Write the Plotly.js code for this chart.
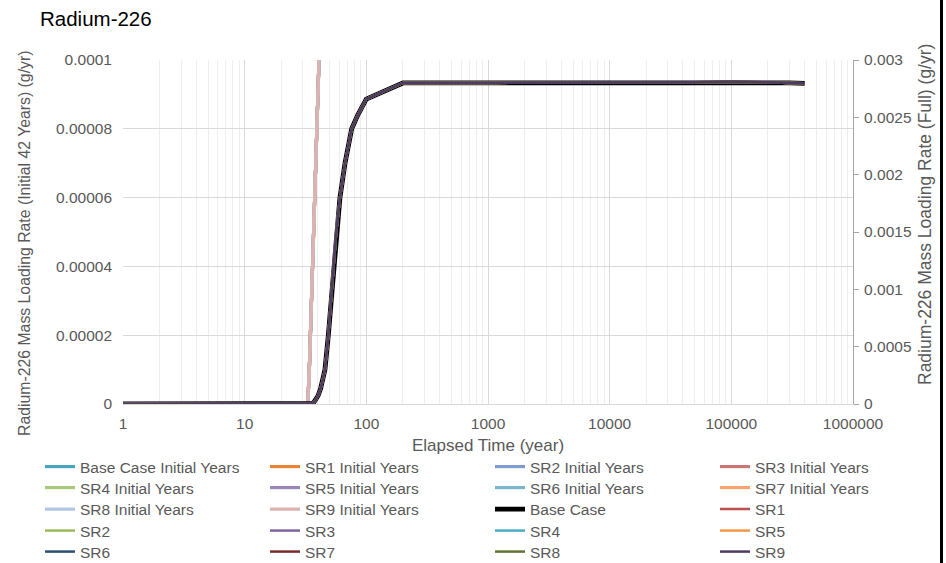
<!DOCTYPE html>
<html>
<head>
<meta charset="utf-8">
<script src="https://cdn.plot.ly/plotly-3.0.1.min.js"></script>
<style>
html,body{margin:0;padding:0;background:#fff;}
#chart{width:946px;height:563px;}
#edge{position:absolute;left:940px;top:0;width:3px;height:563px;background:#000;}
</style>
</head>
<body>
<div id="chart"></div>
<div id="edge"></div>
<script>
// ---- data ----
const chartTitle = "Radium-226";
const xTitle = "Elapsed Time (year)";
const yLeftTitle = "Radium-226 Mass Loading Rate (Initial 42 Years) (g/yr)";
const yRightTitle = "Radium-226 Mass Loading Rate (Full) (g/yr)";

// Initial 42 years (left axis)
const initialYears = [1, 5, 10, 20, 30, 33, 34, 35, 36, 37, 38, 39, 40, 41, 42];
const initialRate  = [0, 0, 0, 0, 0, 0, 0.000010, 0.000024, 0.000038, 0.000052, 0.000065, 0.000078, 0.000090, 0.000102, 0.000114];

// Full simulation (right axis)
const fullYears = [1, 10, 30, 35, 36, 37, 38, 40, 42, 44, 45.7, 48.7, 51.2, 53.8, 56.6, 60.7, 66.8, 75.8, 85, 100, 200, 1000, 10000, 50000, 100000, 150000, 200000, 300000, 400000];
const fullRate  = [0, 0, 0, 0, 0.000005, 0.000015, 0.00003, 0.00007, 0.00013, 0.00022, 0.0003, 0.0006, 0.0009, 0.0012, 0.0015, 0.0018, 0.0021, 0.0024, 0.00252, 0.00266, 0.0028, 0.0028, 0.0028, 0.002805, 0.00281, 0.00281, 0.002805, 0.0028, 0.002797];

const initialNames = ["Base Case Initial Years","SR1 Initial Years","SR2 Initial Years","SR3 Initial Years","SR4 Initial Years","SR5 Initial Years","SR6 Initial Years","SR7 Initial Years","SR8 Initial Years","SR9 Initial Years"];
const initialColors = ["#4AA3C2","#EB8437","#7F9CD2","#CC7674","#A7C77A","#9A86B8","#79B6CE","#F7A46E","#B3C6E4","#DDB3B2"];
const fullNames = ["Base Case","SR1","SR2","SR3","SR4","SR5","SR6","SR7","SR8","SR9"];
const fullColors = ["#000000","#C0504D","#9BBB59","#8064A2","#4BACC6","#F79646","#2C4D75","#772C2A","#5F7530","#4D3B62"];

const xTickVals = [1, 10, 100, 1000, 10000, 100000, 1000000];
const xTickText = ["1","10","100","1000","10000","100000","1000000"];
const yLeftTickVals = [0, 0.00002, 0.00004, 0.00006, 0.00008, 0.0001];
const yLeftTickText = ["0","0.00002","0.00004","0.00006","0.00008","0.0001"];
const yRightTickVals = [0, 0.0005, 0.001, 0.0015, 0.002, 0.0025, 0.003];
const yRightTickText = ["0","0.0005","0.001","0.0015","0.002","0.0025","0.003"];

// ---- traces ----
const traces = [];
initialNames.forEach((n, i) => {
  traces.push({
    x: initialYears, y: initialRate, name: n, type: "scatter", mode: "lines",
    yaxis: "y", line: {color: initialColors[i], width: 3.2}
  });
});
fullNames.forEach((n, i) => {
  traces.push({
    x: fullYears, y: fullRate, name: n, type: "scatter", mode: "lines",
    yaxis: "y2", line: {color: fullColors[i], width: i === 0 ? 4.8 : 2.5}
  });
});

const grey = "#595959";
const font = "Liberation Sans, Arial, sans-serif";

const layout = {
  width: 946, height: 563,
  margin: {l: 123, r: 93, t: 60, b: 159, autoexpand: false},
  paper_bgcolor: "#fff", plot_bgcolor: "#fff",
  font: {family: font, color: grey, size: 15},
  title: {text: chartTitle, x: 40/946, xref: "container", xanchor: "left", y: 1 - 19/563, yref: "container", yanchor: "middle",
          font: {family: font, size: 20.5, color: "#000"}},
  showlegend: true,
  xaxis: {
    type: "log", range: [0, 6], tickvals: xTickVals, ticktext: xTickText,
    showgrid: true, gridcolor: "#d9d9d9", gridwidth: 1,
    minor: {dtick: "D1", showgrid: true, gridcolor: "#eeeeee", gridwidth: 1, ticks: ""},
    showline: true, linecolor: "#d9d9d9", linewidth: 1,
    ticks: "", zeroline: false, ticklabelstandoff: 5,
    tickfont: {size: 15.5, color: grey},
    title: {text: xTitle, font: {size: 17, color: grey}, standoff: 8}
  },
  yaxis: {
    range: [0, 0.0001], tickvals: yLeftTickVals, ticktext: yLeftTickText,
    showgrid: true, gridcolor: "#d9d9d9", gridwidth: 1, zeroline: false,
    showline: false, ticks: "", ticklabelstandoff: 10,
    tickfont: {size: 15.5, color: grey}
  },
  yaxis2: {
    overlaying: "y", side: "right", range: [0, 0.003],
    tickvals: yRightTickVals, ticktext: yRightTickText,
    showgrid: false, zeroline: false, showline: true, linecolor: "#a6a6a6", linewidth: 1,
    ticks: "outside", ticklen: 5, tickcolor: "#a6a6a6", ticklabelstandoff: 2,
    tickfont: {size: 15.5, color: grey}
  },
  annotations: [
    {text: yLeftTitle, textangle: -90, xref: "paper", yref: "paper", x: (24 - 123) / 730, y: (404 - 244) / 344,
     xanchor: "center", yanchor: "middle", showarrow: false, font: {size: 15.8, color: grey}},
    {text: yRightTitle, textangle: -90, xref: "paper", yref: "paper", x: (925 - 123) / 730, y: (404 - 215) / 344,
     xanchor: "center", yanchor: "middle", showarrow: false, font: {size: 17.5, color: grey}}
  ]
};

// one small legend per entry, laid out in a 4-column grid
const colPx = [40, 265, 490, 715];
const rowPx = [467, 488, 509.5, 531, 552];
traces.forEach((t, k) => {
  const id = k === 0 ? "legend" : "legend" + (k + 1);
  t.legend = id;
  layout[id] = {
    orientation: "v", xref: "container", yref: "container",
    x: colPx[k % 4] / 946, xanchor: "left",
    y: 1 - rowPx[Math.floor(k / 4)] / 563, yanchor: "middle",
    font: {size: 15.5, color: grey}, bgcolor: "rgba(0,0,0,0)", borderwidth: 0
  };
});

Plotly.newPlot("chart", traces, layout, {displayModeBar: false, staticPlot: true});
</script>
</body>
</html>
